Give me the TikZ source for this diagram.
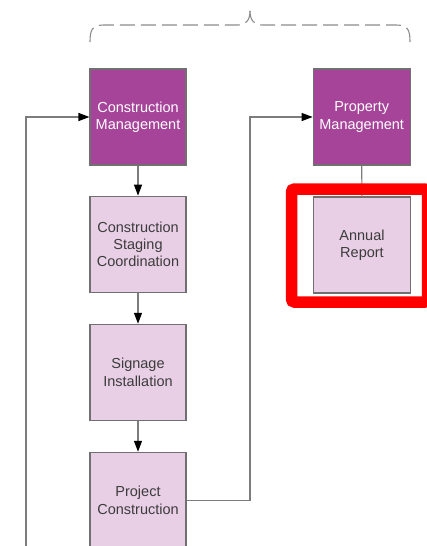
\documentclass[tikz,border=0pt]{standalone}
\usepackage{fontspec}
\setmainfont{Liberation Sans}
\usetikzlibrary{arrows.meta}
\definecolor{darkbox}{HTML}{A6449A}
\definecolor{lightbox}{HTML}{E8CFE5}
\definecolor{boxline}{HTML}{707070}
\definecolor{conn}{HTML}{7C7C7C}
\definecolor{lighttext}{HTML}{3C3C3C}
\definecolor{hilite}{HTML}{FF0000}
\tikzset{
  basebox/.style={rectangle, draw=boxline, line width=1.1pt, minimum width=96pt, minimum height=96pt, align=center, inner sep=0pt,
    font=\fontsize{14.5pt}{17.3pt}\selectfont},
  darkstep/.style={basebox, fill=darkbox, text=white},
  lightstep/.style={basebox, fill=lightbox, text=lighttext},
  link/.style={draw=conn, line width=1.2pt},
  arr/.style={link, -{Triangle[length=11pt,width=8pt,color=black]}},
  bracestyle/.style={draw=black!45, line width=1.1pt, dash pattern=on 15pt off 6pt},
  hibox/.style={draw=hilite, line width=11.5pt, rounded corners=3pt}
}
\begin{document}
\begin{tikzpicture}[x=1pt,y=-1pt]
\useasboundingbox (0,0) rectangle (427,546);
% boxes
\node[darkstep] (cm) at (138,117) {Construction\\Management};
\node[darkstep, minimum width=97pt] (pm) at (361.7,117) {Property\\Management};
\node[lightstep] (csc) at (138,244.2) {Construction\\Staging\\Coordination};
\node[lightstep, minimum width=97pt] (ar) at (362,245) {Annual\\Report};
\node[lightstep] (si) at (138,372.3) {Signage\\Installation};
\node[lightstep] (pc) at (138,500.3) {Project\\Construction};
% connectors
\draw[arr] (cm) -- (csc);
\draw[arr] (csc) -- (si);
\draw[arr] (si) -- (pc);
\draw[link] (pm) -- (ar);
\coordinate (lb) at (26,560);
\draw[arr] (lb) |- (cm.west);
\coordinate (rc) at (250,300);
\draw[arr] (pc.east) -| (rc) |- (pm.west);
% brace
\draw[bracestyle] (90,42) .. controls (90,30) and (92,25) .. (104,25) -- (238,25)
  .. controls (246,25) and (250,20) .. (250,11);
\draw[bracestyle] (410,42) .. controls (410,30) and (408,25) .. (396,25) -- (262,25)
  .. controls (254,25) and (250,20) .. (250,11);
% highlight
\draw[hibox] (291.5,189) rectangle (427.5,302);
\end{tikzpicture}
\end{document}
